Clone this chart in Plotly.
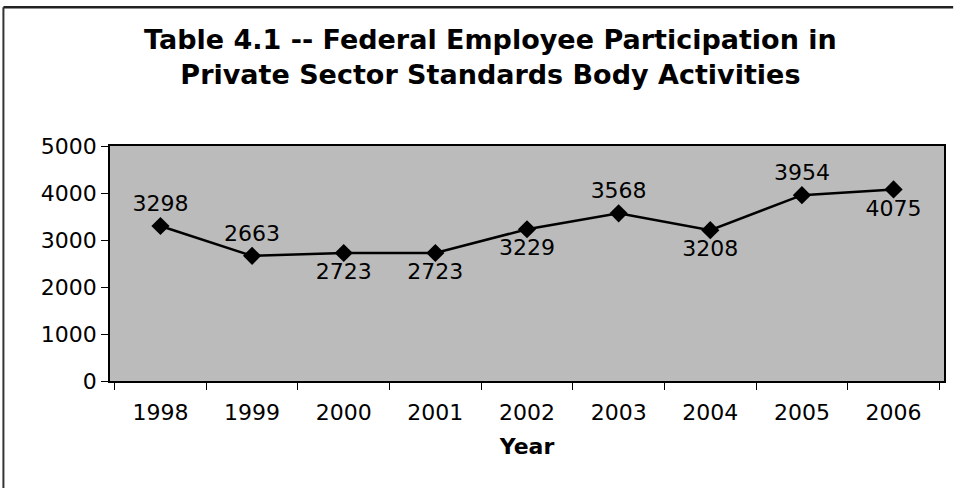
import plotly.graph_objects as go

years = ["1998", "1999", "2000", "2001", "2002", "2003", "2004", "2005", "2006"]
participants = [3298, 2663, 2723, 2723, 3229, 3568, 3208, 3954, 4075]
label_pos = ["top center", "top center", "bottom center", "bottom center", "bottom center",
             "top center", "bottom center", "top center", "bottom center"]

FONT = "DejaVu Sans, Liberation Sans, Arial"

fig = go.Figure()
fig.add_trace(go.Scatter(
    x=years, y=participants,
    mode="lines+markers+text",
    line=dict(color="black", width=2.5),
    marker=dict(symbol="diamond", size=14, color="black"),
    text=[str(v) for v in participants],
    textposition=label_pos,
    textfont=dict(family=FONT, size=22, color="black"),
    cliponaxis=False,
    showlegend=False,
))

fig.update_layout(
    width=956, height=488,
    margin=dict(l=110, r=10, t=146, b=107),
    paper_bgcolor="white",
    plot_bgcolor="#bbbbbb",
    title=dict(
        text="Table 4.1 -- Federal Employee Participation in<br>Private Sector Standards Body Activities",
        x=0.513, xanchor="center", y=0.90, yanchor="top",
        font=dict(family=FONT, size=27, color="black", weight="bold"),
    ),
    xaxis=dict(
        type="category",
        showline=True, linecolor="black", linewidth=1.5, mirror=True,
        ticks="outside", tickson="boundaries", ticklen=7, tickcolor="black",
        tickfont=dict(family=FONT, size=22, color="black"),
        ticklabelstandoff=11,
        showgrid=False,
        title=dict(text="<b>Year</b>", font=dict(family=FONT, size=22, color="black"), standoff=14),
    ),
    yaxis=dict(
        range=[0, 5000], dtick=1000,
        showline=True, linecolor="black", linewidth=1.5, mirror=True,
        ticks="outside", ticklen=7, tickcolor="black",
        tickfont=dict(family=FONT, size=22, color="black"),
        showgrid=False, zeroline=False,
    ),
    shapes=[
        dict(type="line", xref="paper", yref="paper", x0=-0.1278, x1=1.011, y0=1.59, y1=1.59,
             line=dict(color="#222", width=2.5)),
        dict(type="line", xref="paper", yref="paper", x0=-0.1278, x1=-0.1278, y0=1.59, y1=-0.46,
             line=dict(color="#333", width=2)),
    ],
)

fig.write_html("out.html", config={"displayModeBar": False},
               post_script="document.body.style.margin='0';")
